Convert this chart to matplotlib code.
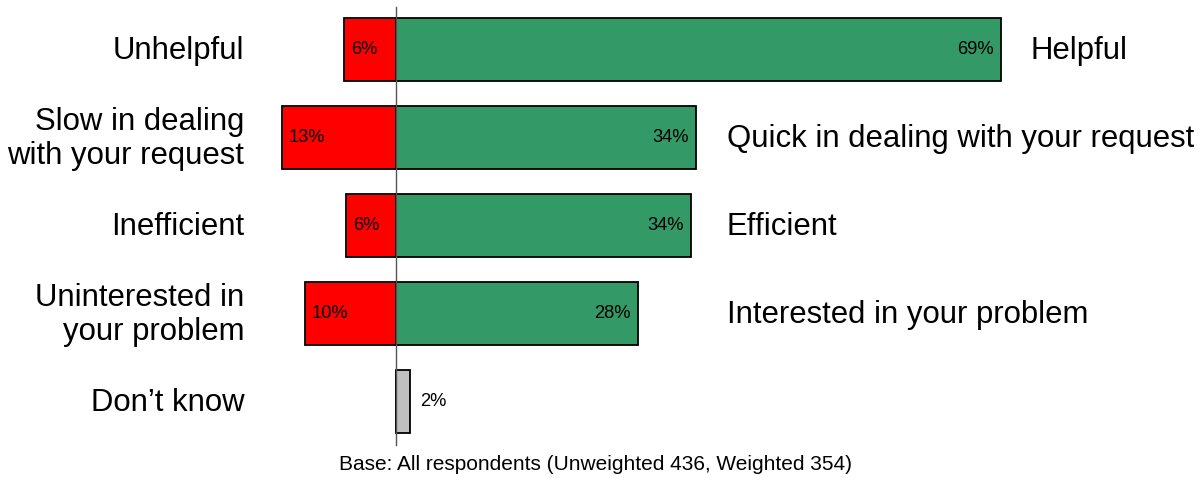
import matplotlib
matplotlib.use("Agg")
import matplotlib.pyplot as plt

plt.rcParams['font.family'] = ['Liberation Sans', 'DejaVu Sans']

left_labels = ["Unhelpful", "Slow in dealing\nwith your request", "Inefficient",
               "Uninterested in\nyour problem", "Don\u2019t know"]
right_labels = ["Helpful", "Quick in dealing with your request", "Efficient",
                "Interested in your problem", ""]
negative = [5.9, 13.0, 5.7, 10.4, 0.0]
positive = [69.0, 34.2, 33.6, 27.6, 0.0]
dont_know = [0.0, 0.0, 0.0, 0.0, 1.6]
base_text = "Base: All respondents (Unweighted 436, Weighted 354)"

GREEN = "#339966"
RED = "#FF0000"
GREY = "#C0C0C0"

W, H = 1204, 478
fig = plt.figure(figsize=(W / 100, H / 100), dpi=100)
ax = fig.add_axes([0, 0, 1, 1])
px_per_pct = 8.77
x0 = 396
ax.set_xlim(-x0 / px_per_pct, (W - x0) / px_per_pct)
row_px = 88.0
top_px = 49.5
ax.set_ylim((H - top_px) / row_px, -top_px / row_px)
ax.axis("off")

ys = list(range(len(left_labels)))
bh = 0.72
ax.barh(ys, [-v for v in negative], height=bh, color=RED, edgecolor="black", linewidth=1.3, zorder=2)
ax.barh(ys, positive, height=bh, color=GREEN, edgecolor="black", linewidth=1.3, zorder=2)
ax.barh(ys, dont_know, height=bh, color=GREY, edgecolor="black", linewidth=1.3, zorder=2)

ax.plot([0, 0], [-0.483, 4.494], color="#555555", linewidth=1.0, zorder=3)

pad = 0.8
for y, n, p, d, ll, rl in zip(ys, negative, positive, dont_know, left_labels, right_labels):
    ax.text(-17.3, y + 0.015, ll, ha="right", va="center", fontsize=22.4, linespacing=1.2)
    if n > 0:
        ax.text(-n + pad, y, f"{n:.0f}%", ha="left", va="center", fontsize=13.2, zorder=4)
    if p > 0:
        ax.text(p - pad, y, f"{p:.0f}%", ha="right", va="center", fontsize=13.2, zorder=4)
    if d > 0:
        ax.text(d + 1.1, y, f"{d:.0f}%", ha="left", va="center", fontsize=13.2, zorder=4)
    if rl:
        ax.text(max(p + 3.4, 37.7), y + 0.015, rl, ha="left", va="center", fontsize=22.4)

ax.text(22.7, (465 - top_px) / row_px, base_text, ha="center", va="center", fontsize=15)

fig.savefig("out.png", dpi=100)
